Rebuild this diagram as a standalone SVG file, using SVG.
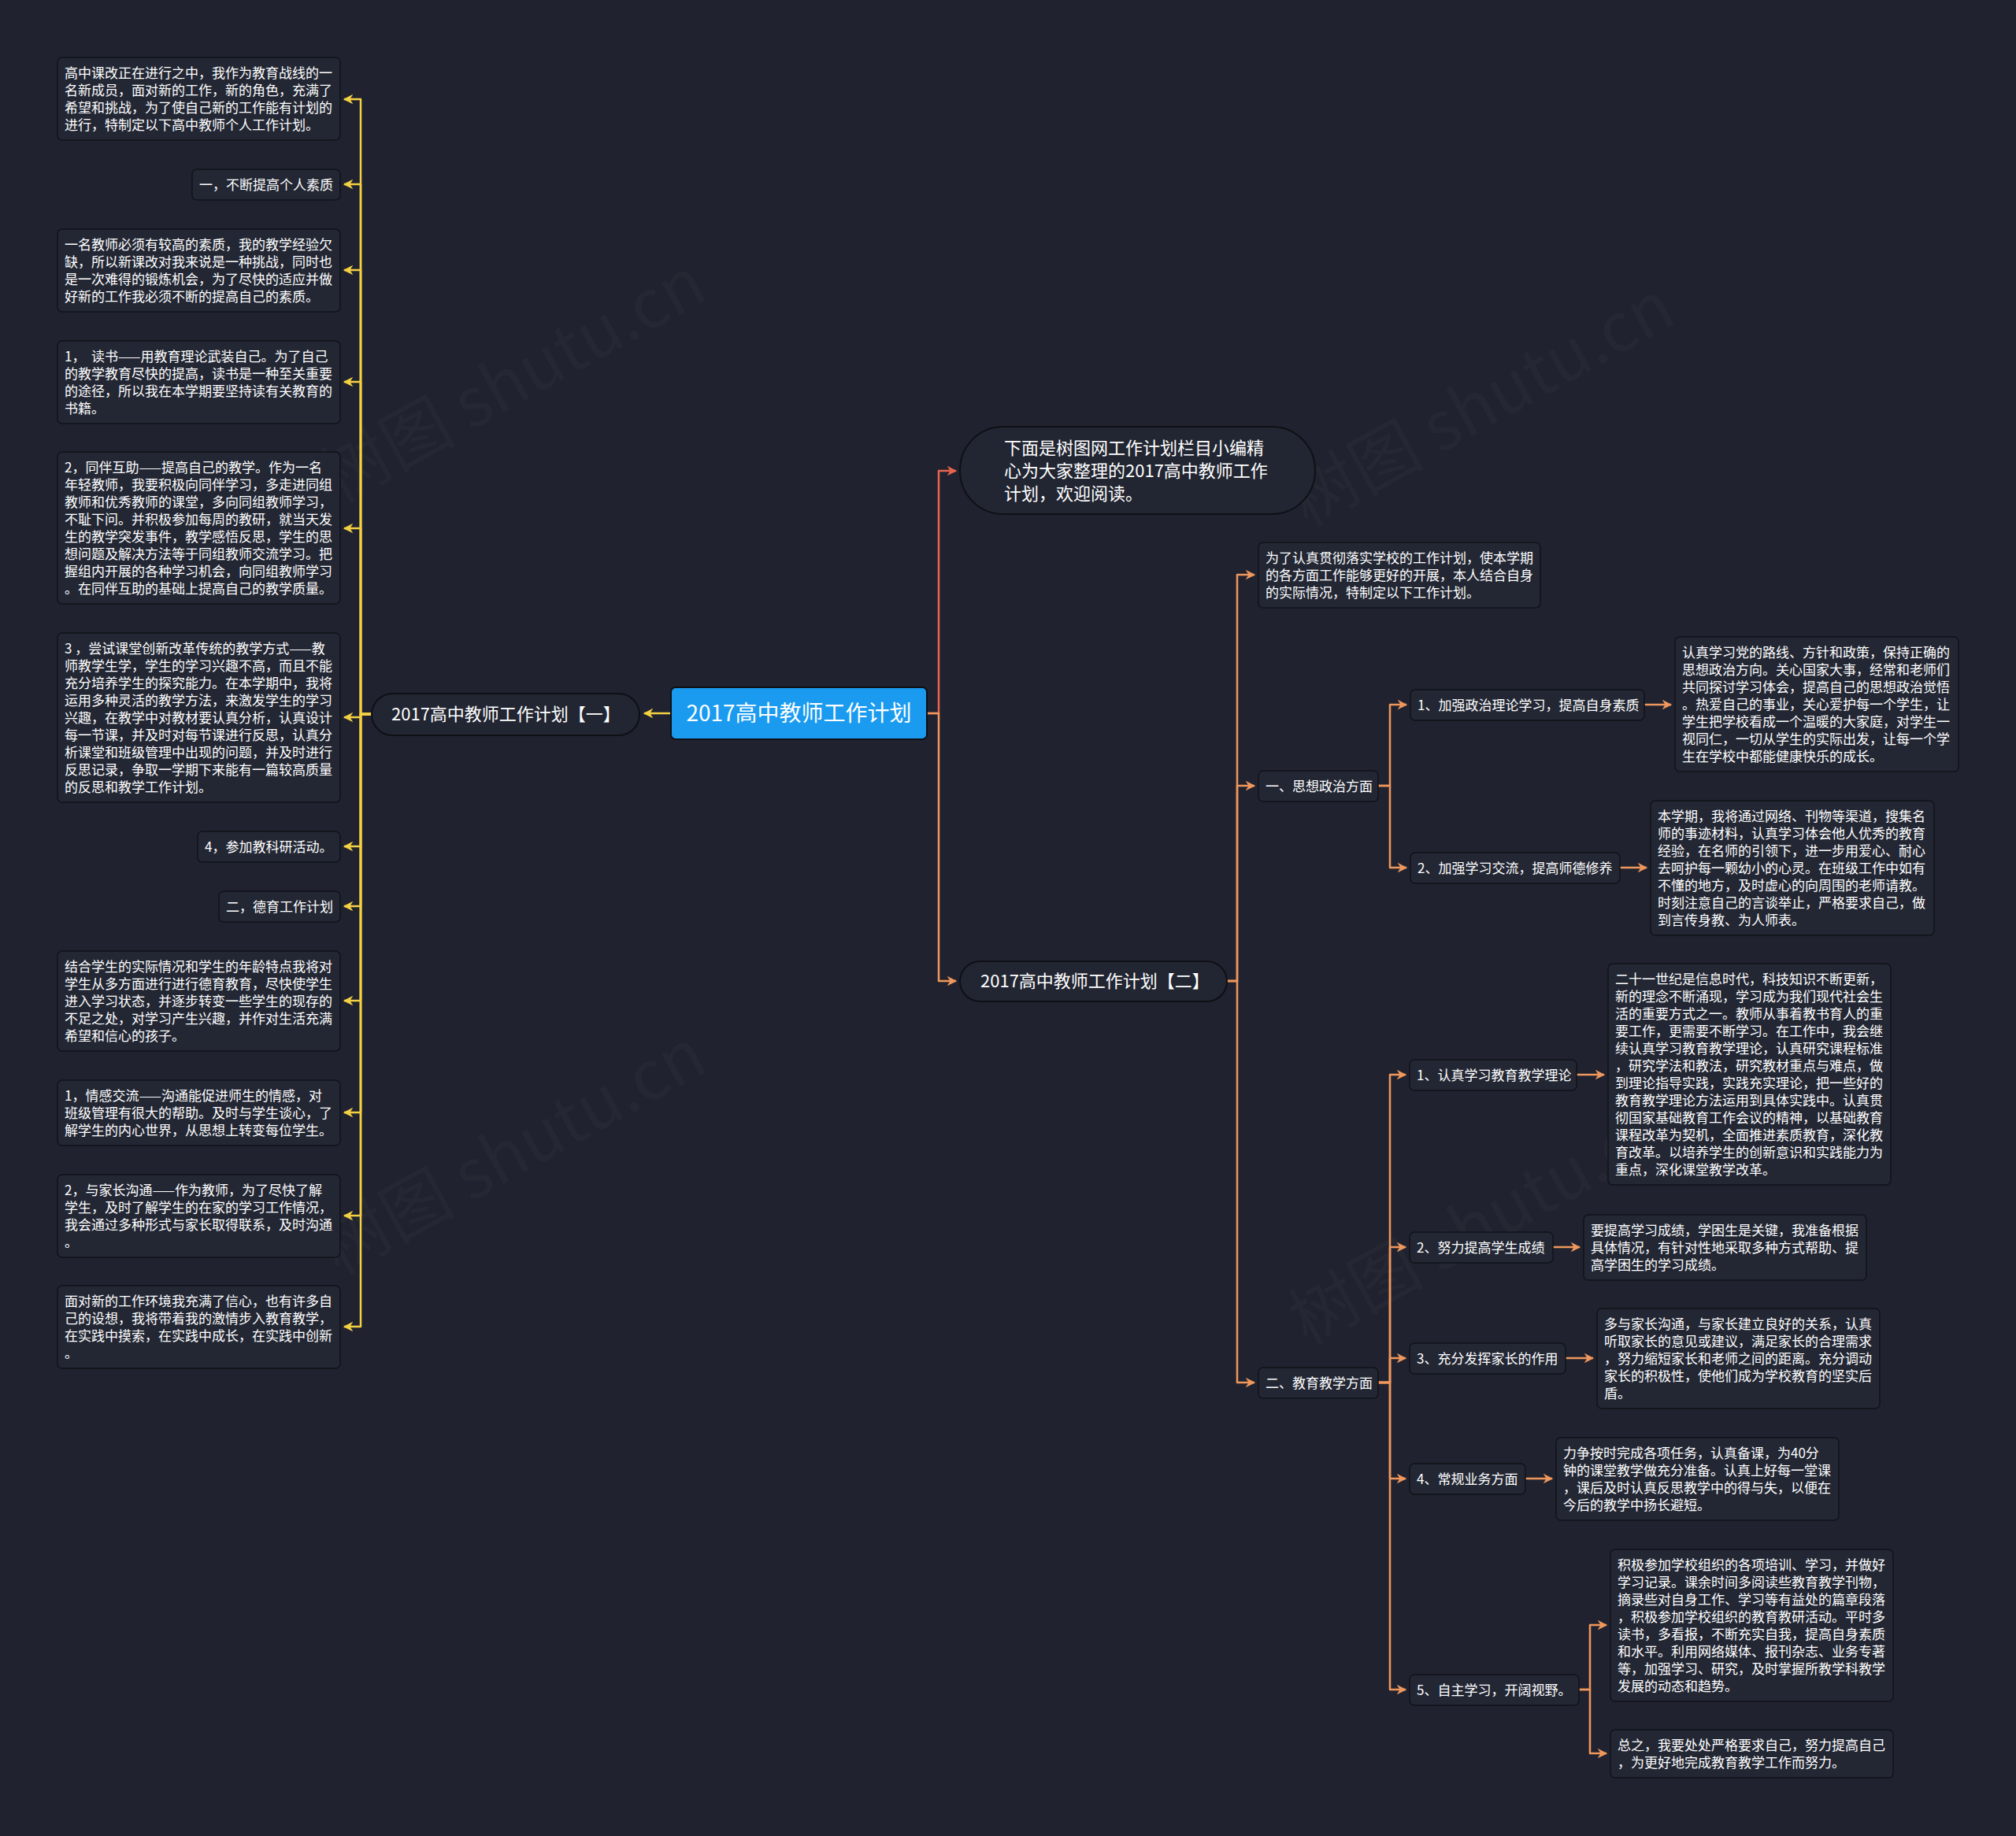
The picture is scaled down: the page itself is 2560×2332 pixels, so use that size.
<svg xmlns="http://www.w3.org/2000/svg" width="2560" height="2332" viewBox="0 0 2560 2332">
<style>
.box{fill:#232734;stroke:#111318;stroke-width:1.5}
.pill{fill:#222632;stroke:#0e1015;stroke-width:2}
.t{font-family:"Noto Sans CJK SC","Noto Sans",sans-serif;font-size:17px;fill:#ffffff}
.tl{font-family:"Noto Sans CJK SC","Noto Sans",sans-serif;font-size:22px;fill:#ffffff}
.cy{fill:none;stroke:#f4d043;stroke-width:2.5;stroke-linejoin:round}
.co{fill:none;stroke:#ef975c;stroke-width:2.5;stroke-linejoin:round}
.cr{fill:none;stroke:#e8644f;stroke-width:2.5;stroke-linejoin:round}
.wm{font-family:"Noto Sans CJK SC","DejaVu Sans",sans-serif;font-size:86px;fill:#ffffff;fill-opacity:0.025}
</style>
<defs>
<marker id="ay" viewBox="0 0 10 10" refX="9" refY="5" markerWidth="5" markerHeight="5" orient="auto" markerUnits="strokeWidth"><path d="M0,0 L10,5 L0,10 L3,5 z" fill="#f4d043"/></marker>
<marker id="ao" viewBox="0 0 10 10" refX="9" refY="5" markerWidth="5" markerHeight="5" orient="auto" markerUnits="strokeWidth"><path d="M0,0 L10,5 L0,10 L3,5 z" fill="#ef975c"/></marker>
<marker id="ar" viewBox="0 0 10 10" refX="9" refY="5" markerWidth="5" markerHeight="5" orient="auto" markerUnits="strokeWidth"><path d="M0,0 L10,5 L0,10 L3,5 z" fill="#e8644f"/></marker>
</defs>
<rect width="2560" height="2332" fill="#20232f"/>
<g id="watermarks">
<text class="wm" transform="translate(430,640) rotate(-29)">树图 shutu.cn</text>
<text class="wm" transform="translate(1660,670) rotate(-29)">树图 shutu.cn</text>
<text class="wm" transform="translate(430,1620) rotate(-29)">树图 shutu.cn</text>
<text class="wm" transform="translate(1660,1710) rotate(-29)">树图 shutu.cn</text>
</g>
<g id="connectors">
<path class="cy" d="M852,906 H818" marker-end="url(#ay)"/>
<path class="cy" d="M472,907 H458 V126 H437" marker-end="url(#ay)"/>
<path class="cy" d="M472,907 H458 V234 H437" marker-end="url(#ay)"/>
<path class="cy" d="M472,907 H458 V343 H437" marker-end="url(#ay)"/>
<path class="cy" d="M472,907 H458 V485 H437" marker-end="url(#ay)"/>
<path class="cy" d="M472,907 H458 V671 H437" marker-end="url(#ay)"/>
<path class="cy" d="M472,907 H458 V911 H437" marker-end="url(#ay)"/>
<path class="cy" d="M472,907 H458 V1075 H437" marker-end="url(#ay)"/>
<path class="cy" d="M472,907 H458 V1151 H437" marker-end="url(#ay)"/>
<path class="cy" d="M472,907 H458 V1271 H437" marker-end="url(#ay)"/>
<path class="cy" d="M472,907 H458 V1413 H437" marker-end="url(#ay)"/>
<path class="cy" d="M472,907 H458 V1544 H437" marker-end="url(#ay)"/>
<path class="cy" d="M472,907 H458 V1685 H437" marker-end="url(#ay)"/>
<path class="cr" d="M1177,906 H1192 V598 H1214" marker-end="url(#ar)"/>
<path class="co" d="M1177,906 H1192 V1246 H1214" marker-end="url(#ao)"/>
<path class="co" d="M1558,1246 H1571 V730 H1593" marker-end="url(#ao)"/>
<path class="co" d="M1558,1246 H1571 V998 H1593" marker-end="url(#ao)"/>
<path class="co" d="M1558,1246 H1571 V1756 H1593" marker-end="url(#ao)"/>
<path class="co" d="M1750,998 H1765 V895 H1786" marker-end="url(#ao)"/>
<path class="co" d="M1750,998 H1765 V1102 H1786" marker-end="url(#ao)"/>
<path class="co" d="M1750,1756 H1765 V1365 H1785" marker-end="url(#ao)"/>
<path class="co" d="M1750,1756 H1765 V1584 H1785" marker-end="url(#ao)"/>
<path class="co" d="M1750,1756 H1765 V1725 H1785" marker-end="url(#ao)"/>
<path class="co" d="M1750,1756 H1765 V1878 H1785" marker-end="url(#ao)"/>
<path class="co" d="M1750,1756 H1765 V2146 H1785" marker-end="url(#ao)"/>
<path class="co" d="M2088,895 H2122" marker-end="url(#ao)"/>
<path class="co" d="M2057,1102 H2091" marker-end="url(#ao)"/>
<path class="co" d="M2002,1365 H2037" marker-end="url(#ao)"/>
<path class="co" d="M1972,1584 H2006" marker-end="url(#ao)"/>
<path class="co" d="M1988,1725 H2023" marker-end="url(#ao)"/>
<path class="co" d="M1937,1878 H1971" marker-end="url(#ao)"/>
<path class="co" d="M2005,2146 H2019 V2064 H2040" marker-end="url(#ao)"/>
<path class="co" d="M2005,2146 H2019 V2227 H2040" marker-end="url(#ao)"/>
</g>
<g id="root">
<rect x="852" y="873" width="325" height="66" rx="6" fill="#1a9bf0" stroke="#0e1015" stroke-width="2"/>
<text x="1014.5" y="916" text-anchor="middle" font-family="Noto Sans CJK SC, sans-serif" font-size="28" fill="#ffffff">2017高中教师工作计划</text>
</g>
<g id="plan1">
<rect class="pill" x="472" y="881" width="340" height="53" rx="26.5"/>
<text class="tl" x="497" y="915">2017高中教师工作计划【一】</text>
</g>
<g id="intro">
<rect class="pill" x="1219" y="542" width="451" height="111" rx="55"/>
<text class="tl"><tspan x="1275" y="577">下面是树图网工作计划栏目小编精</tspan><tspan x="1275" y="606">心为大家整理的2017高中教师工作</tspan><tspan x="1275" y="635">计划，欢迎阅读。</tspan></text>
</g>
<g id="plan2">
<rect class="pill" x="1219" y="1221" width="339" height="51" rx="25.5"/>
<text class="tl" x="1245" y="1254">2017高中教师工作计划【二】</text>
</g>
<g id="l1">
<rect class="box" x="73" y="73" width="359" height="105" rx="6"/>
<text class="t"><tspan x="82" y="99">高中课改正在进行之中，我作为教育战线的一</tspan><tspan x="82" y="121">名新成员，面对新的工作，新的角色，充满了</tspan><tspan x="82" y="143">希望和挑战，为了使自己新的工作能有计划的</tspan><tspan x="82" y="165">进行，特制定以下高中教师个人工作计划。</tspan></text>
</g>
<g id="l2">
<rect class="box" x="244" y="215" width="188" height="39" rx="6"/>
<text class="t" x="253" y="241">一，不断提高个人素质</text>
</g>
<g id="l3">
<rect class="box" x="73" y="291" width="359" height="105" rx="6"/>
<text class="t"><tspan x="82" y="317">一名教师必须有较高的素质，我的教学经验欠</tspan><tspan x="82" y="339">缺，所以新课改对我来说是一种挑战，同时也</tspan><tspan x="82" y="361">是一次难得的锻炼机会，为了尽快的适应并做</tspan><tspan x="82" y="383">好新的工作我必须不断的提高自己的素质。</tspan></text>
</g>
<g id="l4">
<rect class="box" x="73" y="433" width="359" height="105" rx="6"/>
<text class="t" style="white-space:pre"><tspan x="82" y="459">1，  读书——用教育理论武装自己。为了自己</tspan><tspan x="82" y="481">的教学教育尽快的提高，读书是一种至关重要</tspan><tspan x="82" y="503">的途径，所以我在本学期要坚持读有关教育的</tspan><tspan x="82" y="525">书籍。</tspan></text>
</g>
<g id="l5">
<rect class="box" x="73" y="574" width="359" height="193" rx="6"/>
<text class="t"><tspan x="82" y="600">2，同伴互助——提高自己的教学。作为一名</tspan><tspan x="82" y="622">年轻教师，我要积极向同伴学习，多走进同组</tspan><tspan x="82" y="644">教师和优秀教师的课堂，多向同组教师学习，</tspan><tspan x="82" y="666">不耻下问。并积极参加每周的教研，就当天发</tspan><tspan x="82" y="688">生的教学突发事件，教学感悟反思，学生的思</tspan><tspan x="82" y="710">想问题及解决方法等于同组教师交流学习。把</tspan><tspan x="82" y="732">握组内开展的各种学习机会，向同组教师学习</tspan><tspan x="82" y="754">。在同伴互助的基础上提高自己的教学质量。</tspan></text>
</g>
<g id="l6">
<rect class="box" x="73" y="804" width="359" height="215" rx="6"/>
<text class="t" style="white-space:pre"><tspan x="82" y="830">3 ，尝试课堂创新改革传统的教学方式——教</tspan><tspan x="82" y="852">师教学生学，学生的学习兴趣不高，而且不能</tspan><tspan x="82" y="874">充分培养学生的探究能力。在本学期中，我将</tspan><tspan x="82" y="896">运用多种灵活的教学方法，来激发学生的学习</tspan><tspan x="82" y="918">兴趣，在教学中对教材要认真分析，认真设计</tspan><tspan x="82" y="940">每一节课，并及时对每节课进行反思，认真分</tspan><tspan x="82" y="962">析课堂和班级管理中出现的问题，并及时进行</tspan><tspan x="82" y="984">反思记录，争取一学期下来能有一篇较高质量</tspan><tspan x="82" y="1006">的反思和教学工作计划。</tspan></text>
</g>
<g id="l7">
<rect class="box" x="251" y="1056" width="181" height="39" rx="6"/>
<text class="t" x="260" y="1082">4，参加教科研活动。</text>
</g>
<g id="l8">
<rect class="box" x="278" y="1132" width="154" height="39" rx="6"/>
<text class="t" x="287" y="1158">二，德育工作计划</text>
</g>
<g id="l9">
<rect class="box" x="73" y="1208" width="359" height="127" rx="6"/>
<text class="t"><tspan x="82" y="1234">结合学生的实际情况和学生的年龄特点我将对</tspan><tspan x="82" y="1256">学生从多方面进行进行德育教育，尽快使学生</tspan><tspan x="82" y="1278">进入学习状态，并逐步转变一些学生的现存的</tspan><tspan x="82" y="1300">不足之处，对学习产生兴趣，并作对生活充满</tspan><tspan x="82" y="1322">希望和信心的孩子。</tspan></text>
</g>
<g id="l10">
<rect class="box" x="73" y="1372" width="359" height="83" rx="6"/>
<text class="t"><tspan x="82" y="1398">1，情感交流——沟通能促进师生的情感，对</tspan><tspan x="82" y="1420">班级管理有很大的帮助。及时与学生谈心，了</tspan><tspan x="82" y="1442">解学生的内心世界，从思想上转变每位学生。</tspan></text>
</g>
<g id="l11">
<rect class="box" x="73" y="1492" width="359" height="105" rx="6"/>
<text class="t"><tspan x="82" y="1518">2，与家长沟通——作为教师，为了尽快了解</tspan><tspan x="82" y="1540">学生，及时了解学生的在家的学习工作情况，</tspan><tspan x="82" y="1562">我会通过多种形式与家长取得联系，及时沟通</tspan><tspan x="82" y="1584">。</tspan></text>
</g>
<g id="l12">
<rect class="box" x="73" y="1633" width="359" height="105" rx="6"/>
<text class="t"><tspan x="82" y="1659">面对新的工作环境我充满了信心，也有许多自</tspan><tspan x="82" y="1681">己的设想，我将带着我的激情步入教育教学，</tspan><tspan x="82" y="1703">在实践中摸索，在实践中成长，在实践中创新</tspan><tspan x="82" y="1725">。</tspan></text>
</g>
<g id="r1">
<rect class="box" x="1598" y="689" width="358" height="83" rx="6"/>
<text class="t"><tspan x="1607" y="715">为了认真贯彻落实学校的工作计划，使本学期</tspan><tspan x="1607" y="737">的各方面工作能够更好的开展，本人结合自身</tspan><tspan x="1607" y="759">的实际情况，特制定以下工作计划。</tspan></text>
</g>
<g id="s1">
<rect class="box" x="1598" y="979" width="152" height="39" rx="6"/>
<text class="t" x="1607" y="1005">一、思想政治方面</text>
</g>
<g id="a1">
<rect class="box" x="1791" y="876" width="297" height="39" rx="6"/>
<text class="t" x="1800" y="902">1、加强政治理论学习，提高自身素质</text>
</g>
<g id="big1">
<rect class="box" x="2127" y="809" width="360" height="171" rx="6"/>
<text class="t"><tspan x="2136" y="835">认真学习党的路线、方针和政策，保持正确的</tspan><tspan x="2136" y="857">思想政治方向。关心国家大事，经常和老师们</tspan><tspan x="2136" y="879">共同探讨学习体会，提高自己的思想政治觉悟</tspan><tspan x="2136" y="901">。热爱自己的事业，关心爱护每一个学生，让</tspan><tspan x="2136" y="923">学生把学校看成一个温暖的大家庭，对学生一</tspan><tspan x="2136" y="945">视同仁，一切从学生的实际出发，让每一个学</tspan><tspan x="2136" y="967">生在学校中都能健康快乐的成长。</tspan></text>
</g>
<g id="a2">
<rect class="box" x="1791" y="1083" width="266" height="39" rx="6"/>
<text class="t" x="1800" y="1109">2、加强学习交流，提高师德修养</text>
</g>
<g id="big2">
<rect class="box" x="2096" y="1017" width="360" height="171" rx="6"/>
<text class="t"><tspan x="2105" y="1043">本学期，我将通过网络、刊物等渠道，搜集名</tspan><tspan x="2105" y="1065">师的事迹材料，认真学习体会他人优秀的教育</tspan><tspan x="2105" y="1087">经验，在名师的引领下，进一步用爱心、耐心</tspan><tspan x="2105" y="1109">去呵护每一颗幼小的心灵。在班级工作中如有</tspan><tspan x="2105" y="1131">不懂的地方，及时虚心的向周围的老师请教。</tspan><tspan x="2105" y="1153">时刻注意自己的言谈举止，严格要求自己，做</tspan><tspan x="2105" y="1175">到言传身教、为人师表。</tspan></text>
</g>
<g id="s2">
<rect class="box" x="1598" y="1737" width="152" height="39" rx="6"/>
<text class="t" x="1607" y="1763">二、教育教学方面</text>
</g>
<g id="b1">
<rect class="box" x="1790" y="1346" width="212" height="39" rx="6"/>
<text class="t" x="1799" y="1372">1、认真学习教育教学理论</text>
</g>
<g id="big3">
<rect class="box" x="2042" y="1224" width="359" height="281" rx="6"/>
<text class="t"><tspan x="2051" y="1250">二十一世纪是信息时代，科技知识不断更新，</tspan><tspan x="2051" y="1272">新的理念不断涌现，学习成为我们现代社会生</tspan><tspan x="2051" y="1294">活的重要方式之一。教师从事着教书育人的重</tspan><tspan x="2051" y="1316">要工作，更需要不断学习。在工作中，我会继</tspan><tspan x="2051" y="1338">续认真学习教育教学理论，认真研究课程标准</tspan><tspan x="2051" y="1360">，研究学法和教法，研究教材重点与难点，做</tspan><tspan x="2051" y="1382">到理论指导实践，实践充实理论，把一些好的</tspan><tspan x="2051" y="1404">教育教学理论方法运用到具体实践中。认真贯</tspan><tspan x="2051" y="1426">彻国家基础教育工作会议的精神，以基础教育</tspan><tspan x="2051" y="1448">课程改革为契机，全面推进素质教育，深化教</tspan><tspan x="2051" y="1470">育改革。以培养学生的创新意识和实践能力为</tspan><tspan x="2051" y="1492">重点，深化课堂教学改革。</tspan></text>
</g>
<g id="b2">
<rect class="box" x="1790" y="1565" width="182" height="39" rx="6"/>
<text class="t" x="1799" y="1591">2、努力提高学生成绩</text>
</g>
<g id="big4">
<rect class="box" x="2011" y="1543" width="359" height="83" rx="6"/>
<text class="t"><tspan x="2020" y="1569">要提高学习成绩，学困生是关键，我准备根据</tspan><tspan x="2020" y="1591">具体情况，有针对性地采取多种方式帮助、提</tspan><tspan x="2020" y="1613">高学困生的学习成绩。</tspan></text>
</g>
<g id="b3">
<rect class="box" x="1790" y="1706" width="198" height="39" rx="6"/>
<text class="t" x="1799" y="1732">3、充分发挥家长的作用</text>
</g>
<g id="big5">
<rect class="box" x="2028" y="1662" width="359" height="127" rx="6"/>
<text class="t"><tspan x="2037" y="1688">多与家长沟通，与家长建立良好的关系，认真</tspan><tspan x="2037" y="1710">听取家长的意见或建议，满足家长的合理需求</tspan><tspan x="2037" y="1732">，努力缩短家长和老师之间的距离。充分调动</tspan><tspan x="2037" y="1754">家长的积极性，使他们成为学校教育的坚实后</tspan><tspan x="2037" y="1776">盾。</tspan></text>
</g>
<g id="b4">
<rect class="box" x="1790" y="1859" width="147" height="39" rx="6"/>
<text class="t" x="1799" y="1885">4、常规业务方面</text>
</g>
<g id="big6">
<rect class="box" x="1976" y="1826" width="359" height="105" rx="6"/>
<text class="t"><tspan x="1985" y="1852">力争按时完成各项任务，认真备课，为40分</tspan><tspan x="1985" y="1874">钟的课堂教学做充分准备。认真上好每一堂课</tspan><tspan x="1985" y="1896">，课后及时认真反思教学中的得与失，以便在</tspan><tspan x="1985" y="1918">今后的教学中扬长避短。</tspan></text>
</g>
<g id="b5">
<rect class="box" x="1790" y="2127" width="215" height="39" rx="6"/>
<text class="t" x="1799" y="2153">5、自主学习，开阔视野。</text>
</g>
<g id="big7">
<rect class="box" x="2045" y="1968" width="359" height="193" rx="6"/>
<text class="t"><tspan x="2054" y="1994">积极参加学校组织的各项培训、学习，并做好</tspan><tspan x="2054" y="2016">学习记录。课余时间多阅读些教育教学刊物，</tspan><tspan x="2054" y="2038">摘录些对自身工作、学习等有益处的篇章段落</tspan><tspan x="2054" y="2060">，积极参加学校组织的教育教研活动。平时多</tspan><tspan x="2054" y="2082">读书，多看报，不断充实自我，提高自身素质</tspan><tspan x="2054" y="2104">和水平。利用网络媒体、报刊杂志、业务专著</tspan><tspan x="2054" y="2126">等，加强学习、研究，及时掌握所教学科教学</tspan><tspan x="2054" y="2148">发展的动态和趋势。</tspan></text>
</g>
<g id="big8">
<rect class="box" x="2045" y="2197" width="359" height="61" rx="6"/>
<text class="t"><tspan x="2054" y="2223">总之，我要处处严格要求自己，努力提高自己</tspan><tspan x="2054" y="2245">，为更好地完成教育教学工作而努力。</tspan></text>
</g>
</svg>
